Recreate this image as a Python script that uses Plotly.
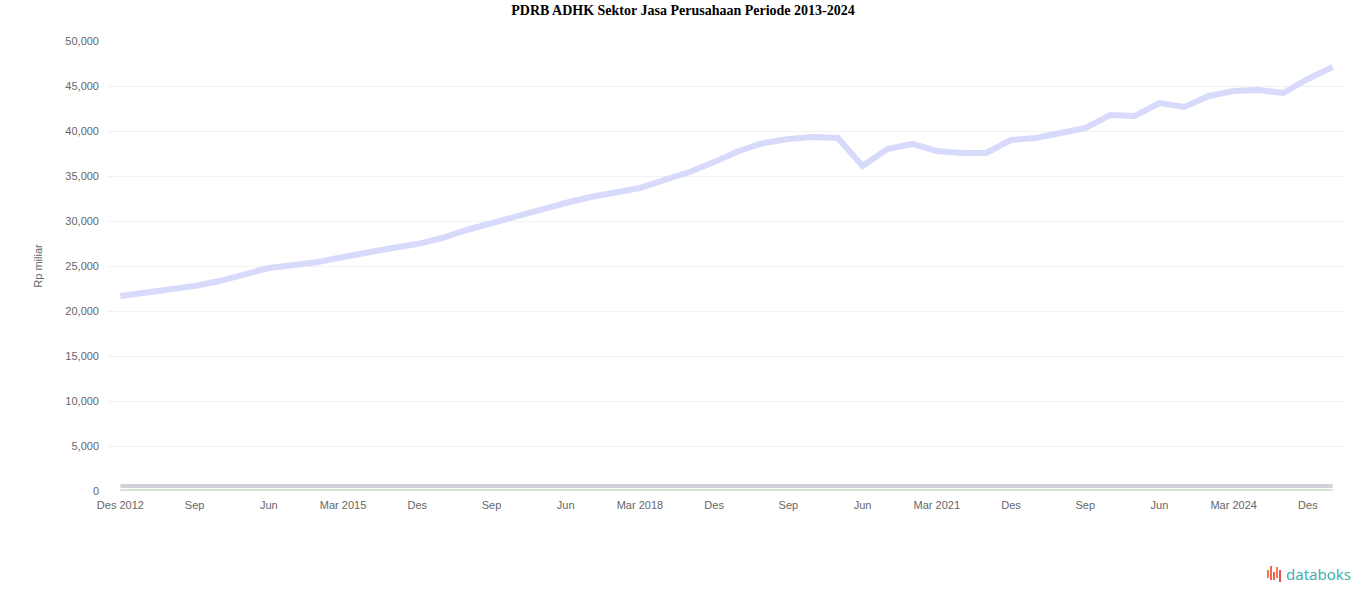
import plotly.graph_objects as go

# ---- data ----
months = ["Mar", "Jun", "Sep", "Des"]
quarters = ["Des 2012"] + [f"{m} {y}" for y in range(2013, 2025) for m in months] + ["Mar 2025"]

pdrb_adhk = [21670, 22000, 22330, 22780, 23330, 24110, 24780, 25110, 25440, 26000,
             26560, 27000, 27440, 28110, 29000, 29780, 30560, 31220, 32000, 32670,
             33110, 33670, 34560, 35440, 36560, 37780, 38670, 39110, 39330, 39220,
             36110, 38000, 38560, 37780, 37560, 37560, 39000, 39220, 39780, 40330,
             41780, 41670, 43110, 42670, 43890, 44440, 44560, 44220, 45780, 47110]

series_grey = [550] * len(quarters)
series_green = [60] * len(quarters)

tick_idx = list(range(0, len(quarters), 3))
tick_vals = [quarters[i] for i in tick_idx]
tick_text = [q if (k == 0 or q.startswith("Mar")) else q.split()[0]
             for k, q in enumerate(tick_vals)]

y_ticks = list(range(0, 50001, 5000))

# ---- figure ----
fig = go.Figure()
fig.add_trace(go.Scatter(x=quarters, y=series_grey, mode="lines",
                         line=dict(color="#d3d0da", width=4), name="a", hoverinfo="skip"))
fig.add_trace(go.Scatter(x=quarters, y=series_green, mode="lines",
                         line=dict(color="#d3e3d4", width=3), name="b", hoverinfo="skip"))
fig.add_trace(go.Scatter(x=quarters, y=pdrb_adhk, mode="lines",
                         line=dict(color="#d8dafb", width=6, shape="linear"),
                         name="PDRB ADHK"))

W, H = 1366, 603
L, T, R = 108, 41, 21
B = H - 491
pw, ph = W - L - R, H - T - B


def px(x):
    return (x - L) / pw


def py(y):
    return (H - B - y) / ph


fig.update_layout(
    width=W, height=H,
    margin=dict(l=L, r=R, t=T, b=B, autoexpand=False),
    paper_bgcolor="white", plot_bgcolor="white",
    showlegend=False,
    title=dict(text="<b>PDRB ADHK Sektor Jasa Perusahaan Periode 2013-2024</b>",
               x=0.5, xanchor="center", y=1 - 10 / H, yanchor="middle",
               font=dict(family="Liberation Serif", size=14, color="#000")),
    font=dict(family="Liberation Sans", size=11, color="#666"),
)
fig.update_xaxes(type="category", range=[-0.5, len(quarters) - 0.5],
                 tickmode="array", tickvals=tick_vals, ticktext=tick_text,
                 showgrid=False, showline=False, zeroline=False,
                 ticks="", ticklabelstandoff=6,
                 tickfont=dict(size=11, color="#666"))
fig.update_yaxes(range=[0, 50000], tickmode="array", tickvals=y_ticks,
                 tickformat=",", showgrid=True, gridcolor="#f1f1f1", gridwidth=1,
                 zeroline=False, showline=False, ticks="", ticklabelstandoff=8,
                 tickfont=dict(size=11, color="#666"),
                 title=dict(text="Rp miliar", standoff=20,
                            font=dict(size=11, color="#666")))

# databoks logo (brand mark)
icon = [(1267, 570, 578, "#f2784b"), (1270, 566, 580, "#ef6a4c"), (1273, 572, 580, "#ec5a4d"),
        (1276, 567, 578, "#f2784b"), (1279, 570, 582, "#e94e4e")]
for x0, y0, y1, c in icon:
    fig.add_shape(type="rect", xref="paper", yref="paper",
                  x0=px(x0), x1=px(x0 + 2), y0=py(y1), y1=py(y0),
                  fillcolor=c, line=dict(width=0))
fig.add_annotation(text="databoks", xref="paper", yref="paper",
                   x=px(1284), y=py(574), xanchor="left", yanchor="middle",
                   showarrow=False,
                   font=dict(family="Noto Sans", size=15, color="#3fb1ad"))

fig.write_html("out.html",
               config={"displayModeBar": False},
               post_script="document.body.style.margin='0';document.body.style.overflow='hidden';")
